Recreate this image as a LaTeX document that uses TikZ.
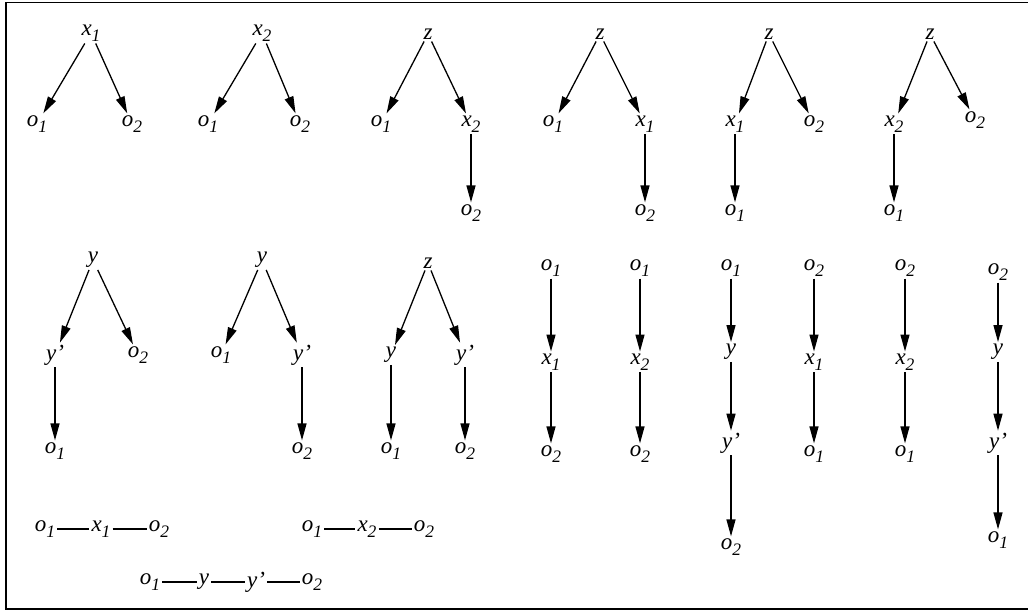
\documentclass[tikz,border=0pt]{standalone}
\usepackage{fontspec}
\setmainfont{Liberation Serif}
\usetikzlibrary{arrows.meta}
\newcommand{\idx}[1]{\raisebox{-6pt}{\fontsize{17.5}{20}\selectfont #1}}

\begin{document}
\begin{tikzpicture}[x=1pt,y=-1pt,
      lab/.style={inner sep=2pt,font=\fontsize{23}{27}\selectfont\itshape},
      arr/.style={line width=1.3pt,-{Triangle[length=17pt,width=9pt]}},
      lnk/.style={line width=1.3pt}]
    \useasboundingbox (0,0) rectangle (1028,612);
    \draw[line width=1.8pt] (1028,2.5) -- (6,2.5) -- (6,609) -- (1028,609);

    % top row
    \node[lab] (p1r) at (91,33) {x\idx{1}};
    \node[lab] (p1a) at (37,124) {o\idx{1}};
    \node[lab] (p1b) at (132,124) {o\idx{2}};
    \draw[arr] (p1r) -- (p1a);
    \draw[arr] (p1r) -- (p1b);

    \node[lab] (p2r) at (262,33) {x\idx{2}};
    \node[lab] (p2a) at (208,124) {o\idx{1}};
    \node[lab] (p2b) at (300,124) {o\idx{2}};
    \draw[arr] (p2r) -- (p2a);
    \draw[arr] (p2r) -- (p2b);

    \node[lab] (p3r) at (428,34) {z};
    \node[lab] (p3a) at (381,124) {o\idx{1}};
    \node[lab] (p3b) at (471,124) {x\idx{2}};
    \node[lab] (p3c) at (471,213) {o\idx{2}};
    \draw[arr] (p3r) -- (p3a);
    \draw[arr] (p3r) -- (p3b);
    \draw[arr] (p3b) -- (p3c);

    \node[lab] (p4r) at (600,34) {z};
    \node[lab] (p4a) at (553,124) {o\idx{1}};
    \node[lab] (p4b) at (645,124) {x\idx{1}};
    \node[lab] (p4c) at (645,213) {o\idx{2}};
    \draw[arr] (p4r) -- (p4a);
    \draw[arr] (p4r) -- (p4b);
    \draw[arr] (p4b) -- (p4c);

    \node[lab] (p5r) at (769,34) {z};
    \node[lab] (p5a) at (735,124) {x\idx{1}};
    \node[lab] (p5b) at (814,124) {o\idx{2}};
    \node[lab] (p5c) at (735,213) {o\idx{1}};
    \draw[arr] (p5r) -- (p5a);
    \draw[arr] (p5r) -- (p5b);
    \draw[arr] (p5a) -- (p5c);

    \node[lab] (p6r) at (930,34) {z};
    \node[lab] (p6a) at (894,124) {x\idx{2}};
    \node[lab] (p6b) at (975,120) {o\idx{2}};
    \node[lab] (p6c) at (894,213) {o\idx{1}};
    \draw[arr] (p6r) -- (p6a);
    \draw[arr] (p6r) -- (p6b);
    \draw[arr] (p6a) -- (p6c);

    % second row, trees
    \node[lab] (p7r) at (93,260) {y};
    \node[lab] (p7a) at (55,355) {y'};
    \node[lab] (p7b) at (138,355) {o\idx{2}};
    \node[lab] (p7c) at (55,451) {o\idx{1}};
    \draw[arr] (p7r) -- (p7a);
    \draw[arr] (p7r) -- (p7b);
    \draw[arr] (p7a) -- (p7c);

    \node[lab] (p8r) at (262,260) {y};
    \node[lab] (p8a) at (221,355) {o\idx{1}};
    \node[lab] (p8b) at (302,355) {y'};
    \node[lab] (p8c) at (302,451) {o\idx{2}};
    \draw[arr] (p8r) -- (p8a);
    \draw[arr] (p8r) -- (p8b);
    \draw[arr] (p8b) -- (p8c);

    \node[lab] (p9r) at (428,263) {z};
    \node[lab] (p9a) at (391,355) {y};
    \node[lab] (p9b) at (465,355) {y'};
    \node[lab] (p9c) at (391,451) {o\idx{1}};
    \node[lab] (p9d) at (465,451) {o\idx{2}};
    \draw[arr] (p9r) -- (p9a);
    \draw[arr] (p9r) -- (p9b);
    \draw[arr] (p9a) -- (p9c);
    \draw[arr] (p9b) -- (p9d);

    % second row, chains
    \node[lab] (qa1) at (551,268) {o\idx{1}};
    \node[lab] (qa2) at (551,362) {x\idx{1}};
    \node[lab] (qa3) at (551,454) {o\idx{2}};
    \draw[arr] (qa1) -- (qa2);
    \draw[arr] (qa2) -- (qa3);

    \node[lab] (qb1) at (640,268) {o\idx{1}};
    \node[lab] (qb2) at (640,362) {x\idx{2}};
    \node[lab] (qb3) at (640,454) {o\idx{2}};
    \draw[arr] (qb1) -- (qb2);
    \draw[arr] (qb2) -- (qb3);

    \node[lab] (qc1) at (731,268) {o\idx{1}};
    \node[lab] (qc2) at (731,352) {y};
    \node[lab] (qc3) at (731,443) {y'};
    \node[lab] (qc4) at (731,547) {o\idx{2}};
    \draw[arr] (qc1) -- (qc2);
    \draw[arr] (qc2) -- (qc3);
    \draw[arr] (qc3) -- (qc4);

    \node[lab] (qd1) at (814,268) {o\idx{2}};
    \node[lab] (qd2) at (814,362) {x\idx{1}};
    \node[lab] (qd3) at (814,454) {o\idx{1}};
    \draw[arr] (qd1) -- (qd2);
    \draw[arr] (qd2) -- (qd3);

    \node[lab] (qe1) at (905,268) {o\idx{2}};
    \node[lab] (qe2) at (905,362) {x\idx{2}};
    \node[lab] (qe3) at (905,454) {o\idx{1}};
    \draw[arr] (qe1) -- (qe2);
    \draw[arr] (qe2) -- (qe3);

    \node[lab] (qf1) at (998,272) {o\idx{2}};
    \node[lab] (qf2) at (998,352) {y};
    \node[lab] (qf3) at (998,443) {y'};
    \node[lab] (qf4) at (998,540) {o\idx{1}};
    \draw[arr] (qf1) -- (qf2);
    \draw[arr] (qf2) -- (qf3);
    \draw[arr] (qf3) -- (qf4);

    % undirected chains
    \node[lab] (u1a) at (45,529) {o\idx{1}};
    \node[lab] (u1b) at (101,529) {x\idx{1}};
    \node[lab] (u1c) at (159,529) {o\idx{2}};
    \draw[lnk] (u1a) -- (u1b) -- (u1c);

    \node[lab] (u2a) at (312,529) {o\idx{1}};
    \node[lab] (u2b) at (367,529) {x\idx{2}};
    \node[lab] (u2c) at (424,529) {o\idx{2}};
    \draw[lnk] (u2a) -- (u2b) -- (u2c);

    \node[lab] (u3a) at (150,582) {o\idx{1}};
    \node[lab] (u3b) at (204,582) {y};
    \node[lab] (u3c) at (256,582) {y'};
    \node[lab] (u3d) at (312,582) {o\idx{2}};
    \draw[lnk] (u3a) -- (u3b) -- (u3c) -- (u3d);
  \end{tikzpicture}
\end{document}
